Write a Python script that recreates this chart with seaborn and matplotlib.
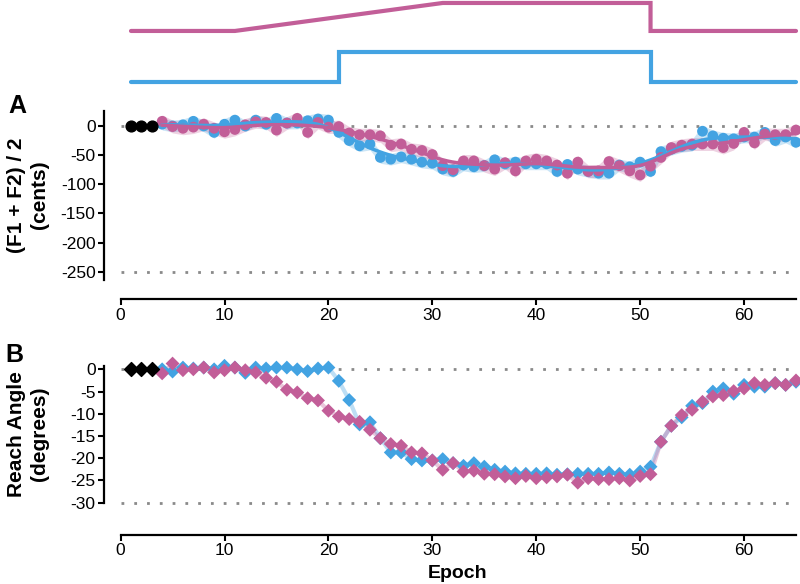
import numpy as np
import pandas as pd
import seaborn as sns
import matplotlib
matplotlib.use("Agg")
import matplotlib.pyplot as plt

# ---- data ----
baseline_epochs = [1, 2, 3]
epochs = list(range(4, 66))

# panel A: (F1 + F2) / 2 in cents
blue_a = [3, 0, 2, 8, 0, -11, 3, 10, 0, 10, 3, 13, 5, 5, 9, 12, 10, -11, -25, -34,
          -31, -54, -57, -53, -57, -62, -64, -74, -78, -67, -70, -68, -58, -65, -62, -65,
          -65, -65, -78, -66, -74, -78, -81, -81, -67, -70, -62, -78, -44, -40, -35, -33,
          -9, -17, -21, -22, -19, -19, -11, -25, -19, -28]
pink_a = [8, -1, -4, -2, 3, -4, -10, -6, 2, 7, 6, -7, 5, 13, -11, 6, -2, -1, -12, -15,
          -15, -17, -33, -31, -40, -42, -49, -68, -75, -60, -60, -68, -74, -63, -77, -60,
          -57, -60, -67, -81, -62, -78, -77, -61, -68, -77, -84, -69, -54, -37, -33, -31,
          -31, -31, -37, -30, -11, -29, -14, -15, -15, -7]
blue_a_se = 10
pink_a_se = 11

# panel B: reach angle in degrees
blue_b = [0, -0.5, 0.4, 0.2, 0.4, 0, 0.8, 0.4, -0.8, 0.4, 0.2, 0.4, 0.4, 0, -0.4, 0.2,
          0.4, -2.6, -6.9, -12.4, -11.9, -15.5, -18.7, -18.7, -20.2, -20.5, -20.5, -20.2,
          -21.1, -21.7, -21.1, -21.9, -22.6, -23, -23.4, -23.5, -23.5, -23.4, -23.7, -23.6,
          -23.5, -23.5, -23.5, -23.2, -23.5, -23.7, -23, -21.9, -16.3, -12.7, -10.8, -8.2,
          -7.6, -5, -4.3, -5.5, -3.5, -3.9, -3.9, -3.1, -3.5, -2.8]
pink_b = [-0.9, 1.3, -0.2, 0, 0.4, -0.7, -0.2, 0.4, -0.2, -0.7, -1.9, -2.8, -4.6, -5.2,
          -6.5, -7, -9.3, -10.6, -11.2, -11.8, -13.6, -15.5, -16.8, -17.2, -18.7, -18.9,
          -20.5, -22.6, -21.1, -23, -22.8, -23.5, -23.6, -24.1, -24.5, -24, -24.5, -24.3,
          -24.1, -23.7, -25.5, -24.5, -24.7, -24.7, -24.5, -25, -24, -23.6, -16.3, -12.7,
          -10.3, -9.1, -7.3, -6.1, -5.8, -4.9, -4.3, -3.1, -3.5, -3.1, -3.5, -2.5]

# perturbation schedules (top schematic)
pink_sched_x = [1, 11, 31, 51, 51, 65]
pink_sched_level = [0, 0, 1, 1, 0, 0]
blue_sched_x = [1, 21, 21, 51, 51, 65]
blue_sched_level = [0, 0, 1, 1, 0, 0]

PINK = "#C25E98"
BLUE = "#43A3E2"
GREY = "#8a8a8a"

sns.set_theme(style="white")
plt.rcParams["font.family"] = ["Liberation Sans", "DejaVu Sans"]
plt.rcParams["axes.unicode_minus"] = False
plt.rcParams["text.color"] = "black"

df_a = pd.DataFrame({"epoch": epochs, "blue": blue_a, "pink": pink_a})
df_b = pd.DataFrame({"epoch": epochs, "blue": blue_b, "pink": pink_b})


def smooth(x, y, bw=2.0):
    # gaussian kernel smoother of the observed points
    x = np.asarray(x, float)
    y = np.asarray(y, float)
    grid = np.linspace(x.min(), x.max(), 250)
    w = np.exp(-0.5 * ((grid[:, None] - x[None, :]) / bw) ** 2)
    return grid, (w * y).sum(1) / w.sum(1)


fig = plt.figure(figsize=(8, 5.84), dpi=100)
W, H = 800, 584
left = 120.6 / W
width = (796 - 120.6) / W

# ---- schematic ----
ax0 = fig.add_axes([left, 1 - 90 / H, width, 90 / H])
ax0.set_xlim(0, 65)
ax0.set_ylim(0, 1)
ax0.axis("off")
ax0.plot(pink_sched_x, 0.656 + 0.311 * np.array(pink_sched_level), color=PINK,
         lw=3, clip_on=False, solid_joinstyle="miter")
ax0.plot(blue_sched_x, 0.089 + 0.333 * np.array(blue_sched_level), color=BLUE,
         lw=3, clip_on=False, solid_joinstyle="miter")

# ---- panel A ----
axA = fig.add_axes([left, 1 - 280 / H, width, (280 - 110.7) / H])
axA.plot([0, 65], [0, 0], ls=(0, (1, 3.6)), lw=2, color=GREY)
axA.plot([0, 65], [-250, -250], ls=(0, (1, 3.6)), lw=2, color=GREY)
for col, color, se in [("blue", BLUE, blue_a_se), ("pink", PINK, pink_a_se)]:
    axA.fill_between(df_a["epoch"], df_a[col] - se, df_a[col] + se,
                     color=color, alpha=0.28, lw=0)
for col, color in [("blue", BLUE), ("pink", PINK)]:
    sns.scatterplot(data=df_a, x="epoch", y=col, color=color, s=60,
                    edgecolor="none", ax=axA, clip_on=False, zorder=3)
for col, color in [("blue", BLUE), ("pink", PINK)]:
    gx, gy = smooth(df_a["epoch"], df_a[col])
    sns.lineplot(x=gx, y=gy, color=color, lw=2.5, ax=axA, zorder=4)
axA.scatter(baseline_epochs, [0, 0, 0], color="black", s=60, zorder=5, clip_on=False)

# ---- panel B ----
axB = fig.add_axes([left, 1 - 503 / H, width, (503 - 366) / H])
axB.plot([0, 65], [0, 0], ls=(0, (1, 3.6)), lw=2, color=GREY)
axB.plot([0, 65], [-30, -30], ls=(0, (1, 3.6)), lw=2, color=GREY, clip_on=False)
for col, color in [("blue", BLUE), ("pink", PINK)]:
    sns.lineplot(data=df_b, x="epoch", y=col, color=color, lw=3, alpha=0.35, ax=axB)
for col, color in [("blue", BLUE), ("pink", PINK)]:
    sns.scatterplot(data=df_b, x="epoch", y=col, color=color, marker="D", s=50,
                    edgecolor="none", ax=axB, clip_on=False, zorder=3)
axB.scatter(baseline_epochs, [0, 0, 0], color="black", marker="D", s=50, zorder=5,
            clip_on=False)

# ---- axes styling ----
for ax, ylim, yt, off in [(axA, (-264.2, 26.2), np.arange(-250, 1, 50), 14),
                          (axB, (-30.07, 0.75), np.arange(-30, 1, 5), 23)]:
    ax.set_xlim(0, 65)
    ax.set_ylim(*ylim)
    ax.set_xticks(range(0, 61, 10))
    ax.set_yticks(yt)
    ax.set_xlabel("")
    ax.set_ylabel("")
    sns.despine(ax=ax)
    ax.spines["left"].set_position(("outward", 12))
    ax.spines["bottom"].set_position(("outward", off))
    for s in ("left", "bottom"):
        ax.spines[s].set_linewidth(1.6)
        ax.spines[s].set_color("black")
    ax.tick_params(axis="both", which="major", direction="out", length=4, width=1.5,
                   labelsize=12.5, colors="black", left=True, bottom=True, pad=2)

fig.text(28 / W, 1 - 195 / H, "(F1 + F2) / 2\n(cents)", rotation=90, ha="center",
         va="center", fontsize=15, fontweight="bold", multialignment="center")
fig.text(28 / W, 1 - 434 / H, "Reach Angle\n(degrees)", rotation=90, ha="center",
         va="center", fontsize=15, fontweight="bold", multialignment="center")
fig.text(17 / W, 1 - 106 / H, "A", ha="center", va="center", fontsize=18,
         fontweight="bold")
fig.text(14 / W, 1 - 355 / H, "B", ha="center", va="center", fontsize=18,
         fontweight="bold")
fig.text(458 / W, 1 - 573 / H, "Epoch", ha="center", va="center", fontsize=14,
         fontweight="bold")

fig.savefig("out.png", dpi=100)
